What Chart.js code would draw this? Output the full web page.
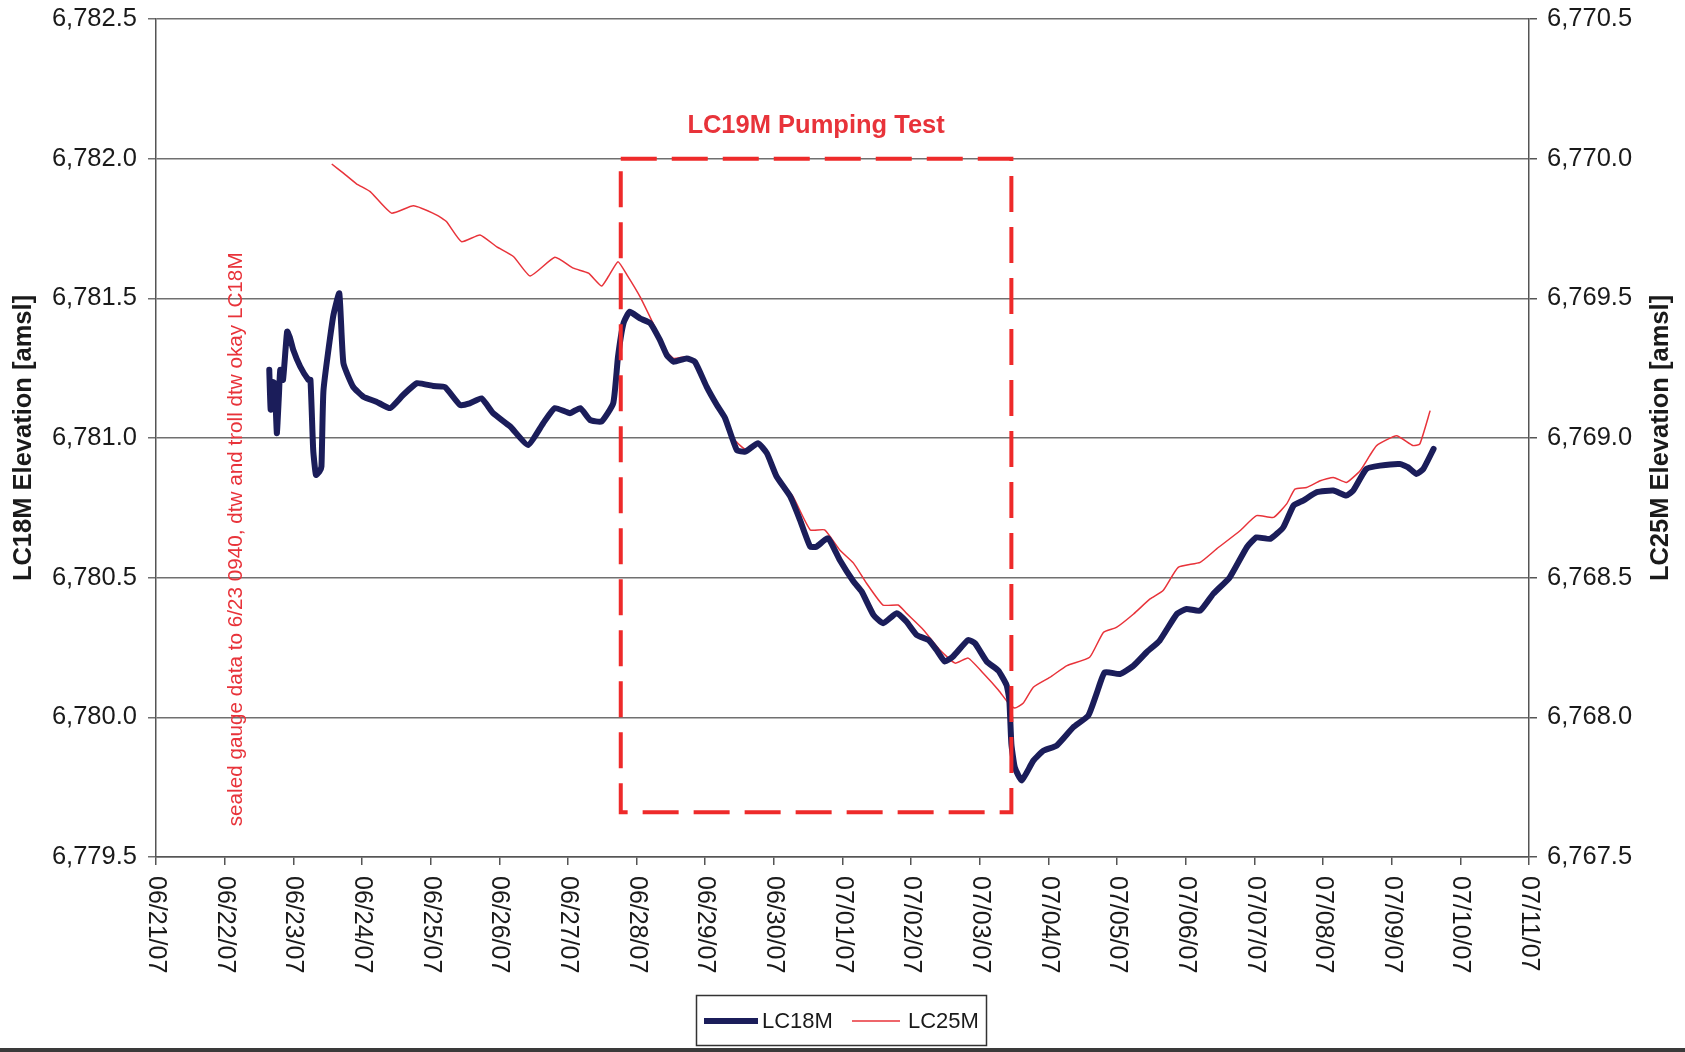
<!DOCTYPE html>
<html>
<head>
<meta charset="utf-8">
<title>LC18M / LC25M elevation</title>
<script src="https://cdn.jsdelivr.net/npm/chart.js"></script>
<style>
  html, body { margin: 0; padding: 0; background: #fff; }
  canvas { display: block; }
</style>
</head>
<body>
<canvas id="chart" width="1685" height="1052"></canvas>
<script>
// days since 06/21/07 00:00
const dateLabels = ['06/21/07', '06/22/07', '06/23/07', '06/24/07', '06/25/07', '06/26/07', '06/27/07',
  '06/28/07', '06/29/07', '06/30/07', '07/01/07', '07/02/07', '07/03/07', '07/04/07', '07/05/07',
  '07/06/07', '07/07/07', '07/08/07', '07/09/07', '07/10/07', '07/11/07'];

const lc18Days = [1.65, 1.67, 1.70, 1.73, 1.76, 1.79, 1.81, 1.85, 1.91, 1.95, 2.00, 2.10, 2.22, 2.25, 2.29,
  2.33, 2.38, 2.41, 2.44, 2.58, 2.67, 2.73, 2.87, 3.02, 3.21, 3.41, 3.60, 3.80, 4.04, 4.21, 4.43, 4.57,
  4.74, 4.91, 5.16, 5.42, 5.64, 5.81, 6.03, 6.18, 6.32, 6.49, 6.66, 6.73, 6.81, 6.90, 7.05, 7.20, 7.34,
  7.44, 7.54, 7.73, 7.85, 8.02, 8.17, 8.29, 8.46, 8.58, 8.77, 8.90, 9.04, 9.24, 9.38, 9.53, 9.62, 9.79,
  9.96, 10.16, 10.28, 10.45, 10.59, 10.79, 10.93, 11.08, 11.25, 11.37, 11.49, 11.61, 11.83, 11.93, 12.10,
  12.27, 12.39, 12.43, 12.46, 12.51, 12.61, 12.78, 12.93, 13.12, 13.36, 13.58, 13.70, 13.82, 14.04, 14.24,
  14.43, 14.62, 14.87, 15.01, 15.21, 15.40, 15.64, 15.89, 16.03, 16.23, 16.42, 16.57, 16.71, 16.91, 17.15,
  17.34, 17.44, 17.63, 17.83, 18.12, 18.24, 18.36, 18.46, 18.61];
const lc18Vals = [6781.244, 6781.101, 6781.200, 6781.196, 6781.017, 6781.150, 6781.244, 6781.208, 6781.381,
  6781.360, 6781.315, 6781.256, 6781.208, 6781.208, 6780.957, 6780.868, 6780.880, 6780.898, 6781.172,
  6781.434, 6781.518, 6781.268, 6781.184, 6781.148, 6781.130, 6781.107, 6781.154, 6781.196, 6781.186,
  6781.182, 6781.118, 6781.124, 6781.142, 6781.089, 6781.041, 6780.975, 6781.053, 6781.107, 6781.089,
  6781.107, 6781.065, 6781.059, 6781.124, 6781.291, 6781.411, 6781.452, 6781.428, 6781.411, 6781.351,
  6781.297, 6781.273, 6781.285, 6781.273, 6781.184, 6781.118, 6781.071, 6780.957, 6780.951, 6780.981,
  6780.945, 6780.862, 6780.790, 6780.707, 6780.611, 6780.611, 6780.641, 6780.563, 6780.486, 6780.450,
  6780.367, 6780.337, 6780.373, 6780.343, 6780.295, 6780.277, 6780.241, 6780.200, 6780.218, 6780.277,
  6780.265, 6780.200, 6780.167, 6780.115, 6780.062, 6779.905, 6779.821, 6779.774, 6779.845, 6779.881,
  6779.899, 6779.964, 6780.006, 6780.084, 6780.161, 6780.155, 6780.185, 6780.233, 6780.275, 6780.370,
  6780.388, 6780.382, 6780.442, 6780.501, 6780.609, 6780.644, 6780.639, 6780.680, 6780.758, 6780.776,
  6780.806, 6780.812, 6780.794, 6780.812, 6780.889, 6780.901, 6780.907, 6780.895, 6780.871, 6780.889,
  6780.961];

const lc25Days = [2.56, 2.73, 2.92, 3.12, 3.43, 3.75, 4.09, 4.23, 4.45, 4.72, 4.96, 5.21, 5.45, 5.81, 6.08,
  6.30, 6.49, 6.59, 6.73, 6.86, 7.05, 7.24, 7.44, 7.54, 7.73, 7.85, 8.02, 8.26, 8.43, 8.60, 8.77, 8.90,
  9.09, 9.28, 9.53, 9.74, 9.96, 10.16, 10.35, 10.59, 10.81, 10.93, 11.18, 11.42, 11.64, 11.83, 12.05,
  12.27, 12.42, 12.51, 12.63, 12.78, 13.02, 13.27, 13.60, 13.80, 13.99, 14.24, 14.48, 14.67, 14.89, 15.21,
  15.45, 15.79, 16.03, 16.28, 16.47, 16.59, 16.76, 16.96, 17.15, 17.34, 17.54, 17.68, 17.78, 18.07, 18.31,
  18.41, 18.56];
const lc25Vals = [6769.981, 6769.948, 6769.910, 6769.882, 6769.805, 6769.831, 6769.798, 6769.775, 6769.703,
  6769.727, 6769.685, 6769.649, 6769.580, 6769.647, 6769.608, 6769.590, 6769.544, 6769.578, 6769.631,
  6769.584, 6769.506, 6769.411, 6769.309, 6769.285, 6769.291, 6769.273, 6769.190, 6769.088, 6768.993,
  6768.957, 6768.981, 6768.951, 6768.850, 6768.790, 6768.671, 6768.671, 6768.599, 6768.552, 6768.480,
  6768.402, 6768.402, 6768.373, 6768.313, 6768.241, 6768.194, 6768.212, 6768.158, 6768.098, 6768.050,
  6768.033, 6768.050, 6768.108, 6768.143, 6768.185, 6768.215, 6768.304, 6768.322, 6768.370, 6768.424,
  6768.454, 6768.537, 6768.555, 6768.603, 6768.668, 6768.722, 6768.716, 6768.764, 6768.817, 6768.823,
  6768.847, 6768.859, 6768.841, 6768.883, 6768.937, 6768.973, 6769.008, 6768.973, 6768.979, 6769.098];

// pumping test box (left axis)
const testDays = [6.77, 12.46];
const testLevels = [6779.66, 6782.0];

const FONT = "'Liberation Sans', Arial, Helvetica, sans-serif";
const NAVY = '#1b1d5a';
const RED = '#e8333a';

function toPoints(xs, ys) {
  return xs.map((x, i) => ({ x: x, y: ys[i] }));
}

const boxPoints = toPoints(
  [testDays[0], testDays[1], testDays[1], testDays[0], testDays[0]],
  [testLevels[1], testLevels[1], testLevels[0], testLevels[0], testLevels[1]]
);

function fmt(v) {
  return v.toLocaleString('en-US', { minimumFractionDigits: 1, maximumFractionDigits: 1 });
}

// fixed axis box sizes so the plot area lands where the original's did
function fitY(s) {
  s.width = 156;
  s.paddingTop = 10;
  s.paddingBottom = 10;
}

const extras = {
  id: 'extras',
  afterDraw(chart) {
    const ctx = chart.ctx;
    const xs = chart.scales.x;
    const ys = chart.scales.y;
    const area = chart.chartArea;
    ctx.save();

    // date labels, rotated clockwise
    ctx.fillStyle = '#1a1a1a';
    ctx.font = '25px ' + FONT;
    ctx.textAlign = 'left';
    ctx.textBaseline = 'middle';
    dateLabels.forEach((lab, i) => {
      ctx.save();
      ctx.translate(xs.getPixelForValue(i), area.bottom + 19);
      ctx.rotate(Math.PI / 2);
      ctx.fillText(lab, 0, 0);
      ctx.restore();
    });

    // axis titles
    ctx.font = 'bold 25.5px ' + FONT;
    ctx.textAlign = 'center';
    const midY = (area.top + area.bottom) / 2;
    [[24, 'LC18M Elevation [amsl]'], [1661, 'LC25M Elevation [amsl]']].forEach(([x, t]) => {
      ctx.save();
      ctx.translate(x, midY);
      ctx.rotate(-Math.PI / 2);
      ctx.fillText(t, 0, 0);
      ctx.restore();
    });

    // pumping test label
    ctx.fillStyle = RED;
    ctx.font = 'bold 25.5px ' + FONT;
    ctx.fillText('LC19M Pumping Test',
      xs.getPixelForValue((testDays[0] + testDays[1]) / 2), ys.getPixelForValue(testLevels[1]) - 33);

    // note
    ctx.font = '20.7px ' + FONT;
    ctx.textAlign = 'left';
    ctx.save();
    ctx.translate(xs.getPixelForValue(1.17), ys.getPixelForValue(6779.61));
    ctx.rotate(-Math.PI / 2);
    ctx.fillText('sealed gauge data to 6/23 0940, dtw and troll dtw okay LC18M', 0, 0);
    ctx.restore();

    // legend
    const lx = 696, ly = 995;
    ctx.strokeStyle = '#333';
    ctx.lineWidth = 1.5;
    ctx.strokeRect(lx + 0.5, ly + 0.5, 290, 50);
    ctx.beginPath();
    ctx.strokeStyle = NAVY;
    ctx.lineWidth = 6;
    ctx.moveTo(lx + 8, ly + 26);
    ctx.lineTo(lx + 62, ly + 26);
    ctx.stroke();
    ctx.beginPath();
    ctx.strokeStyle = RED;
    ctx.lineWidth = 1.5;
    ctx.moveTo(lx + 156, ly + 26);
    ctx.lineTo(lx + 204, ly + 26);
    ctx.stroke();
    ctx.fillStyle = '#1a1a1a';
    ctx.font = '22px ' + FONT;
    ctx.textBaseline = 'middle';
    ctx.fillText('LC18M', lx + 66, ly + 27);
    ctx.fillText('LC25M', lx + 212, ly + 27);

    // scan edge at the bottom
    ctx.fillStyle = '#3a3a3a';
    ctx.fillRect(0, chart.height - 4, chart.width, 4);
    ctx.restore();
  }
};

new Chart(document.getElementById('chart'), {
  type: 'line',
  data: {
    datasets: [
      {
        label: 'LC19M Pumping Test',
        data: boxPoints,
        yAxisID: 'y',
        borderColor: '#ee2a2a',
        borderWidth: 4,
        borderDash: [36, 15],
        pointRadius: 0,
        fill: false,
        tension: 0
      },
      {
        label: 'LC18M',
        data: toPoints(lc18Days, lc18Vals),
        yAxisID: 'y',
        borderColor: NAVY,
        borderWidth: 6,
        pointRadius: 0,
        tension: 0.15,
        borderJoinStyle: 'round',
        borderCapStyle: 'round'
      },
      {
        label: 'LC25M',
        data: toPoints(lc25Days, lc25Vals),
        yAxisID: 'y1',
        borderColor: RED,
        borderWidth: 1.5,
        pointRadius: 0,
        tension: 0.15
      }
    ]
  },
  options: {
    responsive: false,
    animation: false,
    layout: { padding: { top: 19, left: 0, right: 0, bottom: 0 } },
    plugins: {
      legend: { display: false },
      tooltip: { enabled: false }
    },
    scales: {
      x: {
        type: 'linear',
        min: 0,
        max: 20,
        ticks: { stepSize: 1, display: false },
        grid: { drawOnChartArea: false, drawTicks: true, tickLength: 8, color: '#555', lineWidth: 1.5 },
        border: { color: '#555', width: 1.5 },
        afterFit(s) { s.height = 195; }
      },
      y: {
        position: 'left',
        min: 6779.5,
        max: 6782.5,
        ticks: {
          stepSize: 0.5,
          padding: 11,
          color: '#1a1a1a',
          font: { size: 25.5, family: FONT },
          callback: v => fmt(v)
        },
        grid: { color: '#707070', lineWidth: 1.5, tickLength: 8 },
        border: { color: '#555', width: 1.5 },
        afterFit: fitY
      },
      y1: {
        position: 'right',
        min: 6767.5,
        max: 6770.5,
        ticks: {
          stepSize: 0.5,
          padding: 10,
          color: '#1a1a1a',
          font: { size: 25.5, family: FONT },
          callback: v => fmt(v)
        },
        grid: { drawOnChartArea: false, color: '#555', lineWidth: 1.5, tickLength: 8 },
        border: { color: '#555', width: 1.5 },
        afterFit: fitY
      }
    }
  },
  plugins: [extras]
});
</script>
</body>
</html>
